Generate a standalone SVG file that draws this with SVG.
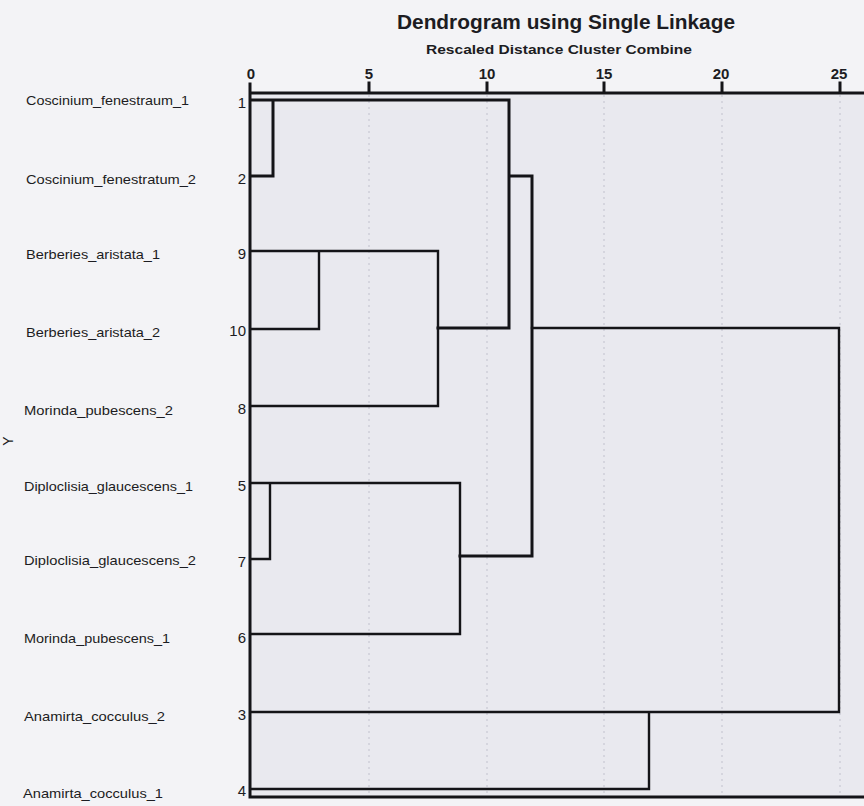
<svg xmlns="http://www.w3.org/2000/svg" width="864" height="806" viewBox="0 0 864 806">
<style>
.lbl{font-family:"Liberation Sans",Arial,sans-serif;font-size:13px;fill:#1c1c22}
.num{font-family:"Liberation Sans",Arial,sans-serif;font-size:15px;fill:#1c1c22;text-anchor:end}
.ax{font-family:"Liberation Sans",Arial,sans-serif;font-size:15px;font-weight:bold;fill:#1c1c22;text-anchor:middle}
.ln{fill:none;stroke:#141418;stroke-width:2.4;stroke-linecap:square}
.thk{stroke-width:3}
.grid{stroke:#c8c8d2;stroke-width:1.2;stroke-dasharray:2 4}
</style>
<rect width="864" height="806" fill="#f3f3f6"/>
<rect x="250" y="93" width="614" height="704" fill="#e9e9ef"/>
<g id="grid">
<line class="grid" x1="369" y1="95" x2="369" y2="795"/>
<line class="grid" x1="487" y1="95" x2="487" y2="795"/>
<line class="grid" x1="604" y1="95" x2="604" y2="795"/>
<line class="grid" x1="722" y1="95" x2="722" y2="795"/>
<line class="grid" x1="840" y1="95" x2="840" y2="795"/>
</g>
<g id="titles">
<text x="566" y="29" font-family="'Liberation Sans',Arial,sans-serif" font-size="20" font-weight="bold" fill="#1c1c22" text-anchor="middle" textLength="338" lengthAdjust="spacingAndGlyphs">Dendrogram using Single Linkage</text>
<text x="559" y="54" font-family="'Liberation Sans',Arial,sans-serif" font-size="13" font-weight="bold" fill="#1c1c22" text-anchor="middle" textLength="266" lengthAdjust="spacingAndGlyphs">Rescaled Distance Cluster Combine</text>
</g>
<g id="axis">
<text class="ax" x="251" y="79">0</text>
<text class="ax" x="369" y="79">5</text>
<text class="ax" x="487" y="79">10</text>
<text class="ax" x="604" y="79">15</text>
<text class="ax" x="721" y="79">20</text>
<text class="ax" x="839" y="79">25</text>
<path class="ln thk" d="M250 93 H864 M250 84 V797 M369 83 V93 M487 83 V93 M604 83 V93 M722 83 V93 M840 83 V93 M250 797 H864"/>
<text x="13" y="441" transform="rotate(-90 13 441)" font-family="'Liberation Sans',Arial,sans-serif" font-size="14" fill="#1c1c22" text-anchor="middle">Y</text>
</g>
<g id="leaf-1"><text class="lbl" x="26" y="105" textLength="163" lengthAdjust="spacingAndGlyphs">Coscinium_fenestraum_1</text><text class="num" x="246" y="108">1</text></g>
<g id="leaf-2"><text class="lbl" x="26" y="184" textLength="170" lengthAdjust="spacingAndGlyphs">Coscinium_fenestratum_2</text><text class="num" x="246" y="184">2</text></g>
<g id="leaf-9"><text class="lbl" x="26" y="259" textLength="134" lengthAdjust="spacingAndGlyphs">Berberies_aristata_1</text><text class="num" x="246" y="259">9</text></g>
<g id="leaf-10"><text class="lbl" x="26" y="337" textLength="134" lengthAdjust="spacingAndGlyphs">Berberies_aristata_2</text><text class="num" x="246" y="336">10</text></g>
<g id="leaf-8"><text class="lbl" x="24" y="415" textLength="149" lengthAdjust="spacingAndGlyphs">Morinda_pubescens_2</text><text class="num" x="246" y="414">8</text></g>
<g id="leaf-5"><text class="lbl" x="24" y="491" textLength="169" lengthAdjust="spacingAndGlyphs">Diploclisia_glaucescens_1</text><text class="num" x="246" y="491">5</text></g>
<g id="leaf-7"><text class="lbl" x="24" y="565" textLength="172" lengthAdjust="spacingAndGlyphs">Diploclisia_glaucescens_2</text><text class="num" x="246" y="567">7</text></g>
<g id="leaf-6"><text class="lbl" x="24" y="643" textLength="146" lengthAdjust="spacingAndGlyphs">Morinda_pubescens_1</text><text class="num" x="246" y="643">6</text></g>
<g id="leaf-3"><text class="lbl" x="24" y="721" textLength="141" lengthAdjust="spacingAndGlyphs">Anamirta_cocculus_2</text><text class="num" x="246" y="720">3</text></g>
<g id="leaf-4"><text class="lbl" x="23" y="798" textLength="140" lengthAdjust="spacingAndGlyphs">Anamirta_cocculus_1</text><text class="num" x="246" y="796">4</text></g>
<g id="connectors">
<path class="ln thk" d="M251 100 H509 V328 H438 M273 100 V176 H251 M509 176 H532 V556 H460"/>
<path class="ln" d="M251 251 H438 V406 H251 M319 251 V329 H251"/>
<path class="ln" d="M532 328 H839 V712 H251 M649 712 V789 H251"/>
<path class="ln" d="M251 483 H460 V634 H251 M270 483 V559 H251"/>
</g>
</svg>
